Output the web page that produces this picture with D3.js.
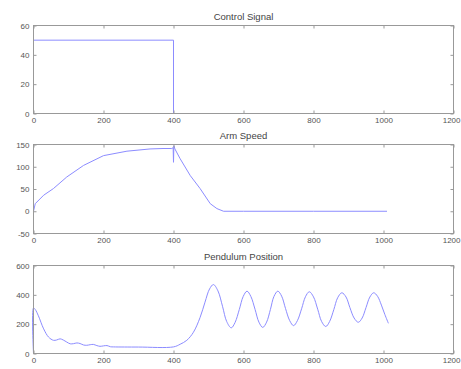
<!DOCTYPE html>
<meta charset="utf-8"/>
<title>Control Signal / Arm Speed / Pendulum Position</title>
<script src="https://d3js.org/d3.v7.min.js"></script>
<style>
  body { margin: 0; background: #fff; }
  svg { display: block; font-family: 'Liberation Sans', Arial, sans-serif; }
  .tick text { fill: #555; font-size: 8px; }
  .domain { display: none; }
  .tick line { stroke: #999; }
  .title { fill: #444; font-size: 9.5px; text-anchor: middle; }
</style>
<svg width=461 height=369></svg>
<script>
  // x ticks shared by all three panels
  const xTicks = [0, 200, 400, 600, 800, 1000, 1200];

  const controlX = [0, 400, 400, 1010];
  const controlY = [50, 50, 0, 0];
  const controlTicks = [0, 20, 40, 60];

  const armX = [0, 5, 29, 57, 95, 143, 200, 267, 333, 370, 395, 399, 400, 401, 404, 419, 448, 476, 505, 524, 543, 600, 800, 1010];
  const armY = [0, 17, 36, 51, 77, 103, 125, 135, 140, 141, 141, 143, 110, 147, 140, 118, 80, 51, 17, 6, 0, 0, 0, 0];
  const armTicks = [-50, 0, 50, 100, 150];

  const pendX = [0, 0, 5, 14, 29, 43, 57, 66, 76, 85, 95, 105, 114, 124, 133, 143, 152, 162, 171, 181, 190, 200, 210, 220, 229, 300, 400,
    419, 438, 457, 476, 490, 503, 514,
    527, 540, 552, 565, 576, 588, 599, 610,
    621, 633, 644, 655, 666, 677, 687, 698,
    709, 720, 732, 743, 754, 766, 777, 788,
    800, 812, 823, 835, 846, 858, 869, 881,
    893, 904, 916, 928, 939, 950, 961, 972,
    983, 994, 1004, 1014];
  const pendY = [0, 310, 300, 257, 168, 112, 90, 92, 100, 92, 78, 66, 67, 72, 68, 58, 56, 60, 62, 54, 49, 52, 54, 46, 45, 44, 45,
    63, 90, 145, 246, 350, 440, 470,
    427, 322, 218, 175, 212, 300, 388, 425,
    389, 301, 214, 178, 214, 301, 389, 425,
    391, 307, 224, 190, 224, 305, 387, 421,
    386, 302, 219, 184, 218, 299, 380, 414,
    385, 313, 242, 213, 242, 313, 385, 414,
    390, 330, 265, 206];
  const pendTicks = [0, 200, 400, 600];

  const svg = d3.select('svg');
  const left = 33.5, right = 453.5;

  function panel(title, top, bottom, xs, ys, yTicks, curve) {
    const x = d3.scaleLinear().domain([0, 1200]).range([left, right]);
    const y = d3.scaleLinear().domain([yTicks[0], yTicks[yTicks.length - 1]]).range([bottom, top]);
    const fmt = function (d) { return String(d); };
    const g = svg.append('g');

    const line = d3.line().x(function (d) { return x(d[0]); }).y(function (d) { return y(d[1]); }).curve(curve);
    g.append('path')
      .datum(d3.zip(xs, ys))
      .attr('d', line)
      .style('fill', 'none').style('stroke', '#8c8cff').style('stroke-width', 1);

    const xAxis = g.append('g').attr('transform', 'translate(0,' + bottom + ')')
      .call(d3.axisBottom(x).tickValues(xTicks).tickFormat(fmt).tickSizeInner(-3).tickSizeOuter(0).tickPadding(4));
    // keep the last label inside the page
    xAxis.selectAll('.tick:last-of-type text')
      .attr('text-anchor', 'end').attr('x', 460 - right);

    g.append('g').attr('transform', 'translate(0,' + top + ')')
      .call(d3.axisTop(x).tickValues(xTicks).tickSizeInner(-3).tickSizeOuter(0).tickFormat(''));
    g.append('g').attr('transform', 'translate(' + left + ',0)')
      .call(d3.axisLeft(y).tickValues(yTicks).tickFormat(fmt).tickSizeInner(-3).tickSizeOuter(0).tickPadding(4));
    g.append('g').attr('transform', 'translate(' + right + ',0)')
      .call(d3.axisRight(y).tickValues(yTicks).tickSizeInner(-3).tickSizeOuter(0).tickFormat(''));

    g.append('rect')
      .attr('x', left).attr('y', top)
      .attr('width', right - left).attr('height', bottom - top)
      .style('fill', 'none').style('stroke', '#999');

    g.append('text').attr('class', 'title')
      .attr('x', (left + right) / 2).attr('y', top - 6)
      .text(title);
  }

  panel('Control Signal', 25.5, 113.5, controlX, controlY, controlTicks, d3.curveLinear);
  panel('Arm Speed', 144.5, 233.5, armX, armY, armTicks, d3.curveLinear);
  panel('Pendulum Position', 265.5, 353.5, pendX, pendY, pendTicks, d3.curveCatmullRom);
</script>
